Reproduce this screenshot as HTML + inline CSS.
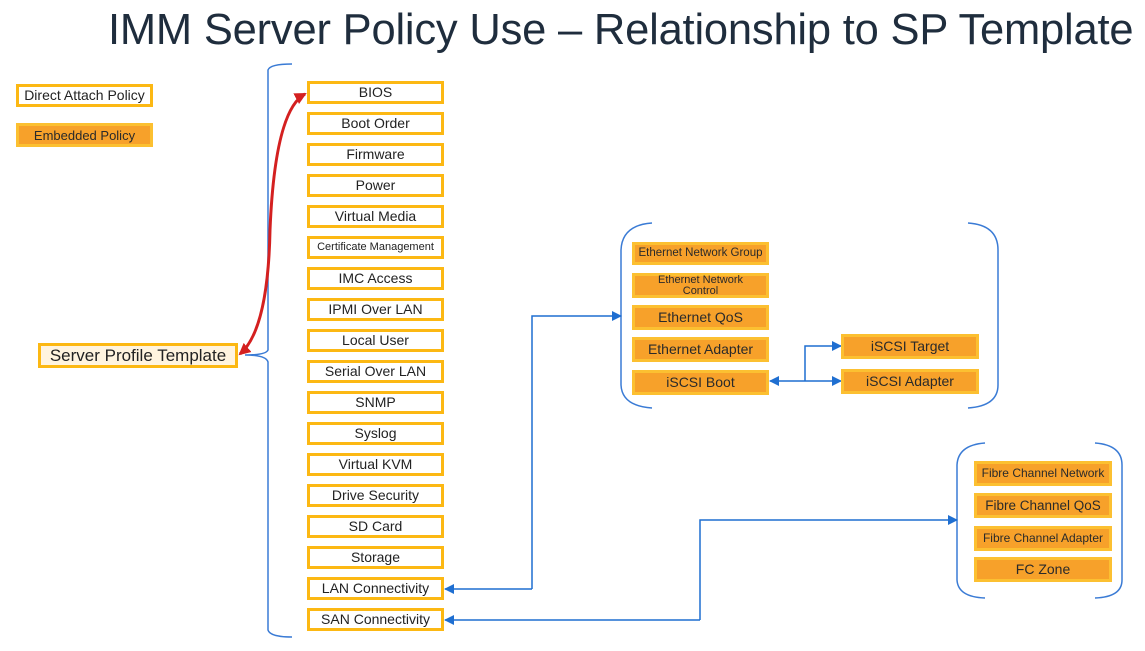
<!DOCTYPE html>
<html><head><meta charset="utf-8"><style>
body{margin:0;width:1145px;height:651px;background:#fff;position:relative;overflow:hidden;font-family:"Liberation Sans",sans-serif}
.b{position:absolute;box-sizing:border-box;border:3px solid #fcb813;display:flex;align-items:center;justify-content:center;text-align:center;color:#222;font-size:14px;line-height:13px}
.w{background:#fff}
.o{background:#f7a12a;border-color:#fcc031;color:#2a2a2a}
.t{position:absolute;left:108px;top:6px;font-size:43.5px;color:#1f2d3d;white-space:nowrap;letter-spacing:-0.2px}
svg{position:absolute;left:0;top:0}
</style></head><body>
<div class="t">IMM Server Policy Use – Relationship to SP Template</div>
<svg width="1145" height="651">
<defs>
<marker id="a" markerWidth="10" markerHeight="10" refX="9" refY="5" orient="auto" markerUnits="userSpaceOnUse"><path d="M0,0 L10,5 L0,10z" fill="#1f6fd1"/></marker>
<marker id="r" markerWidth="12" markerHeight="12" refX="10" refY="6" orient="auto-start-reverse" markerUnits="userSpaceOnUse"><path d="M0,0 L12,6 L0,12z" fill="#d42020"/></marker>
</defs>
<g fill="none" stroke="#3a7bd5" stroke-width="1.5">
<path d="M292,64 Q270,64 268,70 L268,350 Q266,355 245,355 Q266,355 268,362 L268,630 Q270,637 292,637"/>
<path d="M652,223 Q622,225 621,250 L621,385 Q622,406 652,408"/>
<path d="M968,223 Q998,225 998,250 L998,385 Q998,406 968,408"/>
<path d="M985,443 Q958,445 957,465 L957,580 Q958,597 985,598"/>
<path d="M1095,443 Q1122,445 1122,465 L1122,580 Q1122,597 1095,598"/>
</g>
<g fill="none" stroke="#1f6fd1" stroke-width="1.5">
<path d="M532,589 L445,589" marker-end="url(#a)"/>
<path d="M532,589 L532,316 L621,316" marker-end="url(#a)"/>
<path d="M700,620 L445,620" marker-end="url(#a)"/>
<path d="M700,620 L700,520 L957,520" marker-end="url(#a)"/>
<path d="M805,381 L770,381" marker-end="url(#a)"/>
<path d="M805,381 L805,346 L841,346" marker-end="url(#a)"/>
<path d="M805,381 L841,381" marker-end="url(#a)"/>
</g>
<path d="M240,354 Q268,330 270,230 Q275,110 305,94" fill="none" stroke="#d42020" stroke-width="3" marker-start="url(#r)" marker-end="url(#r)"/>
</svg>
<div class="b w" style="left:16px;top:84px;width:137px;height:23px">Direct Attach Policy</div>
<div class="b o" style="left:16px;top:123px;width:137px;height:24px;font-size:13px">Embedded Policy</div>
<div class="b w" style="left:38px;top:343px;width:200px;height:25px;font-size:17px;background:#fff4df">Server Profile Template</div>
<div class="b w" style="left:307px;top:81px;width:137px;height:23px">BIOS</div>
<div class="b w" style="left:307px;top:112px;width:137px;height:23px">Boot Order</div>
<div class="b w" style="left:307px;top:143px;width:137px;height:23px">Firmware</div>
<div class="b w" style="left:307px;top:174px;width:137px;height:23px">Power</div>
<div class="b w" style="left:307px;top:205px;width:137px;height:23px">Virtual Media</div>
<div class="b w" style="left:307px;top:236px;width:137px;height:23px;font-size:11px">Certificate Management</div>
<div class="b w" style="left:307px;top:267px;width:137px;height:23px">IMC Access</div>
<div class="b w" style="left:307px;top:298px;width:137px;height:23px">IPMI Over LAN</div>
<div class="b w" style="left:307px;top:329px;width:137px;height:23px">Local User</div>
<div class="b w" style="left:307px;top:360px;width:137px;height:23px">Serial Over LAN</div>
<div class="b w" style="left:307px;top:391px;width:137px;height:23px">SNMP</div>
<div class="b w" style="left:307px;top:422px;width:137px;height:23px">Syslog</div>
<div class="b w" style="left:307px;top:453px;width:137px;height:23px">Virtual KVM</div>
<div class="b w" style="left:307px;top:484px;width:137px;height:23px">Drive Security</div>
<div class="b w" style="left:307px;top:515px;width:137px;height:23px">SD Card</div>
<div class="b w" style="left:307px;top:546px;width:137px;height:23px">Storage</div>
<div class="b w" style="left:307px;top:577px;width:137px;height:23px">LAN Connectivity</div>
<div class="b w" style="left:307px;top:608px;width:137px;height:23px">SAN Connectivity</div>
<div class="b o" style="left:632px;top:242px;width:137px;height:23px;font-size:11.5px">Ethernet Network Group</div>
<div class="b o" style="left:632px;top:273px;width:137px;height:25px;font-size:11px;line-height:11px">Ethernet Network<br>Control</div>
<div class="b o" style="left:632px;top:305px;width:137px;height:25px">Ethernet QoS</div>
<div class="b o" style="left:632px;top:337px;width:137px;height:25px">Ethernet Adapter</div>
<div class="b o" style="left:632px;top:370px;width:137px;height:25px">iSCSI Boot</div>
<div class="b o" style="left:841px;top:334px;width:138px;height:25px">iSCSI Target</div>
<div class="b o" style="left:841px;top:369px;width:138px;height:25px">iSCSI Adapter</div>
<div class="b o" style="left:974px;top:461px;width:138px;height:25px;font-size:12px">Fibre Channel Network</div>
<div class="b o" style="left:974px;top:493px;width:138px;height:25px;font-size:13.5px">Fibre Channel QoS</div>
<div class="b o" style="left:974px;top:526px;width:138px;height:25px;font-size:12px">Fibre Channel Adapter</div>
<div class="b o" style="left:974px;top:557px;width:138px;height:25px">FC Zone</div>
</body></html>
